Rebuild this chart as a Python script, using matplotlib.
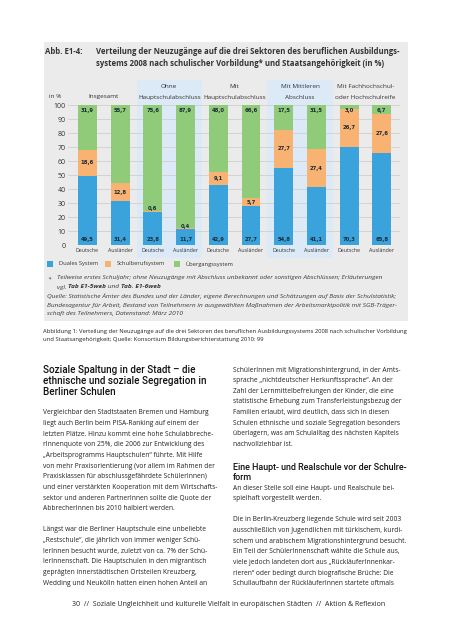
import matplotlib
matplotlib.use("Agg")
import matplotlib.pyplot as plt
import numpy as np
from matplotlib.patches import Rectangle
from matplotlib import font_manager as fm

# data: Neuzugänge 2008 in %, Deutsche / Ausländer per Vorbildung
groups = ["Insgesamt", "Ohne\nHauptschulabschluss", "Mit\nHauptschulabschluss",
          "Mit Mittleren\nAbschluss", "Mit Fachhochschul-\noder Hochschulreife"]
bar_labels = ["Deutsche", "Ausländer"] * 5
duales = np.array([49.5, 31.4, 23.8, 11.7, 42.9, 27.7, 54.8, 41.1, 70.3, 65.8])
schulberuf = np.array([18.6, 12.8, 0.6, 0.4, 9.1, 5.7, 27.7, 27.4, 26.7, 27.6])
uebergang = np.array([31.9, 55.7, 75.6, 87.9, 48.0, 66.6, 17.5, 31.5, 3.0, 6.7])
series_names = ["Duales System", "Schulberufsystem", "Übergangssystem"]

BLUE, ORANGE, GREEN = "#3ba3dc", "#f8b272", "#8fcb78"
BOX, STRIPE = "#ebebeb", "#dce9f6"
INK = "#1d2a38"

W, H = 453, 640
fig = plt.figure(figsize=(W / 100, H / 100), dpi=100)
renderer = fig.canvas.get_renderer()


def pick(*names):
    for n in names:
        try:
            fm.findfont(fm.FontProperties(family=n), fallback_to_default=False)
            return n
        except Exception:
            pass
    return "DejaVu Sans"


NARROW = pick("Liberation Sans Narrow", "Open Sans", "DejaVu Sans")
HEAD = pick("Roboto", "Lato", "DejaVu Sans")
TITLE = pick("Open Sans", "DejaVu Sans")


def fx(x):
    return x / W


def fy(y):
    return 1 - y / H


def fit(s, width, family, **kw):
    # font size so that string s is about `width` pixels wide
    t = fig.text(0, 0, s, fontsize=10, family=family, **kw)
    w = t.get_window_extent(renderer).width
    t.remove()
    return 10 * width / w


def put(x, y, s, size, family, **kw):
    kw.setdefault("va", "center")
    kw.setdefault("ha", "left")
    return fig.text(fx(x), fy(y), s, fontsize=size, family=family, **kw)


def runs(x, y, parts, size, family, **kw):
    for s, weight in parts:
        t = put(x, y, s, size, family, weight=weight, **kw)
        x += t.get_window_extent(renderer).width


def fmt(v):
    return f"{v:.1f}".replace(".", ",")


# grey figure box
fig.add_artist(Rectangle((fx(44), fy(321)), fx(408) - fx(44), fy(42) - fy(321),
                         transform=fig.transFigure, facecolor=BOX,
                         edgecolor="none", zorder=-5))

# title
ts = fit("Verteilung der Neuzugänge auf die drei Sektoren des beruflichen Ausbildungs-",
         302, TITLE, weight="bold")
put(45, 52, "Abb. E1-4:", ts, TITLE, weight="bold", color="#333333")
put(96, 52, "Verteilung der Neuzugänge auf die drei Sektoren des beruflichen Ausbildungs-",
    ts, TITLE, weight="bold", color="#333333")
put(96, 64, "systems 2008 nach schulischer Vorbildung* und Staatsangehörigkeit (in %)",
    ts, TITLE, weight="bold", color="#333333")

# chart
ax = fig.add_axes([fx(68), fy(245), (400 - 68) / W, 140 / H])
ax.patch.set_alpha(0)
x = np.arange(len(duales))
ax.set_xlim(-0.596, 9.557)
ax.set_ylim(0, 100)
for s in ax.spines.values():
    s.set_visible(False)

for g in (1, 3):
    ax.add_patch(Rectangle((2 * g - 0.5, -9.3), 2.0, 127.2, facecolor=STRIPE,
                           edgecolor="none", zorder=0, clip_on=False))

ax.set_yticks(range(0, 101, 10))
ax.yaxis.grid(True, color="#cfcfcf", lw=0.6, zorder=0.5)
ax.set_axisbelow(True)
ysz = fit("100", 12, NARROW)
xsz = fit("Deutsche", 23, NARROW)
ax.tick_params(axis="y", length=0, pad=1.5, labelsize=ysz, colors="#333333")
ax.tick_params(axis="x", length=0, pad=2.5, labelsize=xsz, colors="#333333")
ax.set_xticks(x)
ax.set_xticklabels(bar_labels, family=NARROW)
for lab in ax.get_yticklabels():
    lab.set_family(NARROW)

bw = 0.58
ax.bar(x, duales, width=bw, color=BLUE, zorder=2)
ax.bar(x, schulberuf, width=bw, bottom=duales, color=ORANGE, zorder=2)
ax.bar(x, uebergang, width=bw, bottom=duales + schulberuf, color=GREEN, zorder=2)

vsz = fit("31,9", 13, "DejaVu Sans", weight="bold")
for i in x:
    kw = dict(ha="center", va="center", fontsize=vsz, weight="bold",
              color=INK, zorder=3)
    ax.text(i, 3.8, fmt(duales[i]), **kw)
    ax.text(i, 96.4, fmt(uebergang[i]), **kw)
    if schulberuf[i] >= 3:
        ax.text(i, duales[i] + schulberuf[i] / 2, fmt(schulberuf[i]), **kw)
    else:
        ax.text(i, duales[i] + schulberuf[i] + 1.4, fmt(schulberuf[i]), **kw)

hsz = fit("Hauptschulabschluss", 63, NARROW)
for g, name in enumerate(groups):
    lines = name.split("\n")
    if len(lines) == 1:
        ax.text(2 * g + 0.5, 106.4, lines[0], ha="center", va="center",
                fontsize=hsz, family=NARROW, color="#333333")
    else:
        ax.text(2 * g + 0.5, 112.9, lines[0], ha="center", va="center",
                fontsize=hsz, family=NARROW, color="#333333")
        ax.text(2 * g + 0.5, 105.7, lines[1], ha="center", va="center",
                fontsize=hsz, family=NARROW, color="#333333")
put(49, 96, "in %", hsz, NARROW, color="#333333")

# legend
lsz = fit("Duales System", 39, NARROW)
for (lx, tx), name, col in zip([(47, 59), (105, 117), (174, 186)], series_names,
                               [BLUE, ORANGE, GREEN]):
    fig.add_artist(Rectangle((fx(lx), fy(267)), 6 / W, 6 / H,
                             transform=fig.transFigure, facecolor=col,
                             edgecolor="none"))
    put(tx, 264, name, lsz, NARROW, color="#333333")

# footnote and source
qs = fit("Quelle: Statistische Ämter des Bundes und der Länder, eigene Berechnungen "
         "und Schätzungen auf Basis der Schulstatistik;", 348, NARROW, style="italic")
fc = "#3a3a3a"
put(47, 279, "*", qs, NARROW, style="italic", color=fc)
put(57, 278, "Teilweise erstes Schuljahr; ohne Neuzugänge mit Abschluss unbekannt "
    "oder sonstigen Abschlüssen; Erläuterungen", qs, NARROW, style="italic", color=fc)
runs(57, 287, [("vgl. ", "normal"), ("Tab E1-5web", "bold"), (" und ", "normal"),
               ("Tab. E1-6web", "bold")], qs, NARROW, style="italic", color=fc)
put(47, 296, "Quelle: Statistische Ämter des Bundes und der Länder, eigene Berechnungen "
    "und Schätzungen auf Basis der Schulstatistik;", qs, NARROW, style="italic", color=fc)
put(47, 305, "Bundesagentur für Arbeit, Bestand von Teilnehmern in ausgewählten "
    "Maßnahmen der Arbeitsmarktpolitik mit SGB-Träger-", qs, NARROW, style="italic", color=fc)
put(47, 314, "schaft des Teilnehmers, Datenstand: März 2010", qs, NARROW,
    style="italic", color=fc)

# caption
cs = fit("Abbildung 1: Verteilung der Neuzugänge auf die drei Sektoren des beruflichen "
         "Ausbildungssystems 2008 nach schulischer Vorbildung", 364, NARROW)
put(43, 331, "Abbildung 1: Verteilung der Neuzugänge auf die drei Sektoren des beruflichen "
    "Ausbildungssystems 2008 nach schulischer Vorbildung", cs, NARROW, color="#222222")
put(43, 340, "und Staatsangehörigkeit; Quelle: Konsortium Bildungsberichterstattung 2010: 99",
    cs, NARROW, color="#222222")

# text columns
LS = 10.63
bs = fit("Vergleichbar den Stadtstaaten Bremen und Hamburg", 164, NARROW)
hs = fit("Soziale Spaltung in der Stadt – die", 152, HEAD, weight="medium")
hs2 = fit("Eine Haupt- und Realschule vor der Schulre-", 174, HEAD, weight="medium")

left_head = ["Soziale Spaltung in der Stadt – die",
             "ethnische und soziale Segregation in",
             "Berliner Schulen"]
left_body = ["Vergleichbar den Stadtstaaten Bremen und Hamburg",
             "liegt auch Berlin beim PISA-Ranking auf einem der",
             "letzten Plätze. Hinzu kommt eine hohe Schulabbreche-",
             "rInnenquote von 25%, die 2006 zur Entwicklung des",
             "„Arbeitsprogramms Hauptschulen“ führte. Mit Hilfe",
             "von mehr Praxisorientierung (vor allem im Rahmen der",
             "Praxisklassen für abschlussgefährdete SchülerInnen)",
             "und einer verstärkten Kooperation mit dem Wirtschafts-",
             "sektor und anderen PartnerInnen sollte die Quote der",
             "AbbrecherInnen bis 2010 halbiert werden.",
             "",
             "Längst war die Berliner Hauptschule eine unbeliebte",
             "„Restschule“, die jährlich von immer weniger Schü-",
             "lerInnen besucht wurde, zuletzt von ca. 7% der Schü-",
             "lerInnenschaft. Die Hauptschulen in den migrantisch",
             "geprägten innerstädtischen Ortsteilen Kreuzberg,",
             "Wedding und Neukölln hatten einen hohen Anteil an"]
right_a = ["SchülerInnen mit Migrationshintergrund, in der Amts-",
           "sprache „nichtdeutscher Herkunftssprache“. An der",
           "Zahl der Lernmittelbefreiungen der Kinder, die eine",
           "statistische Erhebung zum Transferleistungsbezug der",
           "Familien erlaubt, wird deutlich, dass sich in diesen",
           "Schulen ethnische und soziale Segregation besonders",
           "überlagern, was am Schulalltag des nächsten Kapitels",
           "nachvollziehbar ist."]
right_head = ["Eine Haupt- und Realschule vor der Schulre-", "form"]
right_b = ["An dieser Stelle soll eine Haupt- und Realschule bei-",
           "spielhaft vorgestellt werden.",
           "",
           "Die in Berlin-Kreuzberg liegende Schule wird seit 2003",
           "ausschließlich von Jugendlichen mit türkischem, kurdi-",
           "schem und arabischem Migrationshintergrund besucht.",
           "Ein Teil der SchülerInnenschaft wählte die Schule aus,",
           "viele jedoch landeten dort aus „RückläuferInnenkar-",
           "rieren“ oder bedingt durch biografische Brüche: Die",
           "Schullaufbahn der RückläuferInnen startete oftmals"]

for k, s in enumerate(left_head):
    put(43, 370 + k * 10.9, s, hs, HEAD, weight="medium", color="#111111")
for k, s in enumerate(left_body):
    put(43, 413 + k * LS, s, bs, NARROW, color="#222222")
for k, s in enumerate(right_a):
    put(233, 370 + k * LS, s, bs, NARROW, color="#222222")
for k, s in enumerate(right_head):
    put(233, 467 + k * LS, s, hs2, HEAD, weight="medium", color="#111111")
for k, s in enumerate(right_b):
    put(233, 488 + k * LS, s, bs, NARROW, color="#222222")

# footer
ft = "30  //  Soziale Ungleichheit und kulturelle Vielfalt in europäischen Städten  //  Aktion & Reflexion"
put(72, 605, ft, fit(ft, 309, NARROW), NARROW, color="#222222")

fig.savefig("out.png", dpi=100, facecolor="white")
